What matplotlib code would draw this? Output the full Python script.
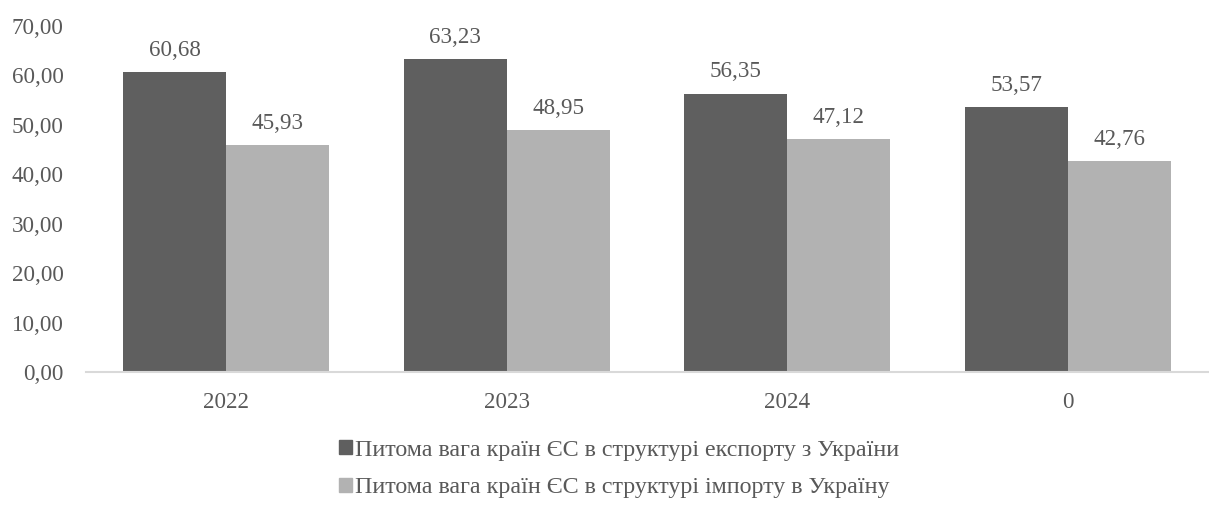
import numpy as np
import matplotlib.pyplot as plt
from matplotlib.patches import Patch

# Data
categories = ["2022", "2023", "2024", "0"]
export_share = [60.68, 63.23, 56.35, 53.57]
import_share = [45.93, 48.95, 47.12, 42.76]
export_label = "Питома вага країн ЄС в структурі експорту з України"
import_label = "Питома вага країн ЄС в структурі імпорту в Україну"

plt.rcParams['font.family'] = ['Liberation Serif', 'DejaVu Serif']
text_color = "#595959"
dark = "#5f5f5f"
light = "#b2b2b2"

fig = plt.figure(figsize=(12.09, 5.05), dpi=100)
ax = fig.add_axes([0.0711, 0.263, 0.928, 0.6855])

x = np.arange(len(categories))
w = 0.367
b1 = ax.bar(x - w / 2, export_share, w, color=dark)
b2 = ax.bar(x + w / 2, import_share, w, color=light)

for bars, vals in ((b1, export_share), (b2, import_share)):
    for bar, v in zip(bars, vals):
        ax.annotate(f"{v:.2f}".replace(".", ","),
                    (bar.get_x() + bar.get_width() / 2, v),
                    xytext=(0, 8), textcoords="offset points",
                    ha="center", va="bottom", fontsize=16.6, color=text_color)

ax.set_xlim(-0.5, len(categories) - 0.5)
ax.set_ylim(0, 70)
ax.set_yticks(np.arange(0, 71, 10))
ax.set_yticklabels([f"{t:.2f}".replace(".", ",") for t in np.arange(0, 71, 10)])
ax.set_xticks(x)
ax.set_xticklabels(categories)
ax.tick_params(axis="both", length=0, labelsize=16.6, labelcolor=text_color)
ax.tick_params(axis="y", pad=16)
ax.tick_params(axis="x", pad=14)

for s in ("top", "right", "left"):
    ax.spines[s].set_visible(False)
ax.spines["bottom"].set_color("#d9d9d9")
ax.spines["bottom"].set_linewidth(1.5)

handles = [Patch(color=dark, label=export_label), Patch(color=light, label=import_label)]
leg = fig.legend(handles=handles, loc="center", bbox_to_anchor=(0.512, 0.0713),
                 ncol=1, frameon=False, fontsize=17.3, handlelength=0.55,
                 handleheight=0.55, handletextpad=0.15, labelspacing=0.7,
                 borderpad=0)
for t in leg.get_texts():
    t.set_color(text_color)

fig.savefig("out.png", dpi=100)
